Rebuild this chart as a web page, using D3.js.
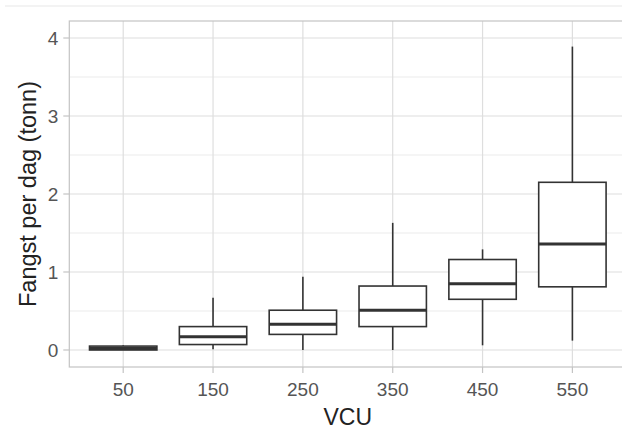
<!DOCTYPE html>
<html><head><meta charset="utf-8">
<script src="https://cdnjs.cloudflare.com/ajax/libs/d3/7.8.5/d3.min.js"></script>
<style>body{margin:0;background:#fff}svg{display:block}text{font-family:"Liberation Sans",Arial,sans-serif}</style>
</head><body>
<script>
const categories = ["50","150","250","350","450","550"];
const whiskerLow  = [0.00, 0.01, 0.00, 0.00, 0.06, 0.12];
const q1          = [0.00, 0.07, 0.20, 0.30, 0.65, 0.81];
const medians     = [0.02, 0.17, 0.33, 0.51, 0.85, 1.36];
const q3          = [0.05, 0.30, 0.51, 0.82, 1.16, 2.15];
const whiskerHigh = [0.06, 0.67, 0.94, 1.63, 1.29, 3.89];
const yTicks = [0, 1, 2, 3, 4];
const yMinor = [0.5, 1.5, 2.5, 3.5];

const W = 622, H = 430;
const L = 69.3, R = 626.3, T = 21, B = 367;
const svg = d3.select("body").append("svg").attr("width", W).attr("height", H);

// faint outer line
svg.append("line").attr("x1", 5).attr("x2", W).attr("y1", 6).attr("y2", 6)
  .attr("stroke", "#efefef").attr("stroke-width", 1.5);

// ggplot discrete expansion: 0.6 units each side
const x = d3.scalePoint().domain(categories)
  .range([L + 0.6 * (R - L) / (categories.length - 1 + 1.2), R - 0.6 * (R - L) / (categories.length - 1 + 1.2)]);
const step = x.step();
const xc = c => x(c);
const y = d3.scaleLinear().domain([-0.218, 4.218]).range([B, T]);

const g = svg.append("g");
// minor grid
g.selectAll(".minor").data(yMinor).join("line")
  .attr("x1", L).attr("x2", R).attr("y1", d => y(d)).attr("y2", d => y(d))
  .attr("stroke", "#ebebeb").attr("stroke-width", 1);
// major grid
g.selectAll(".majy").data(yTicks).join("line")
  .attr("x1", L).attr("x2", R).attr("y1", d => y(d)).attr("y2", d => y(d))
  .attr("stroke", "#dedede").attr("stroke-width", 1.2);
g.selectAll(".majx").data(categories).join("line")
  .attr("x1", d => xc(d)).attr("x2", d => xc(d)).attr("y1", T).attr("y2", B)
  .attr("stroke", "#dedede").attr("stroke-width", 1.2);

// boxes
const bw = 0.75 * step;
const col = "#333333";
categories.forEach((c, i) => {
  const cx = xc(c);
  g.append("line").attr("x1", cx).attr("x2", cx).attr("y1", y(q3[i])).attr("y2", y(whiskerHigh[i]))
    .attr("stroke", col).attr("stroke-width", 1.6);
  g.append("line").attr("x1", cx).attr("x2", cx).attr("y1", y(q1[i])).attr("y2", y(whiskerLow[i]))
    .attr("stroke", col).attr("stroke-width", 1.6);
  g.append("rect").attr("x", cx - bw / 2).attr("width", bw)
    .attr("y", y(q3[i])).attr("height", y(q1[i]) - y(q3[i]))
    .attr("fill", "#fff").attr("stroke", col).attr("stroke-width", 1.6);
  g.append("line").attr("x1", cx - bw / 2).attr("x2", cx + bw / 2)
    .attr("y1", y(medians[i])).attr("y2", y(medians[i]))
    .attr("stroke", col).attr("stroke-width", 3);
});

// panel border
svg.append("rect").attr("x", L).attr("y", T).attr("width", R - L).attr("height", B - T)
  .attr("fill", "none").attr("stroke", "#c4c4c4").attr("stroke-width", 1.2);

// y axis ticks + labels
yTicks.forEach(t => {
  svg.append("line").attr("x1", L - 6).attr("x2", L).attr("y1", y(t)).attr("y2", y(t))
    .attr("stroke", "#c4c4c4").attr("stroke-width", 1.2);
  svg.append("text").attr("x", L - 11).attr("y", y(t)).attr("dy", "0.36em")
    .attr("text-anchor", "end").attr("font-size", 19).attr("fill", "#555").text(t);
});
categories.forEach(c => {
  svg.append("line").attr("x1", xc(c)).attr("x2", xc(c)).attr("y1", B).attr("y2", B + 6)
    .attr("stroke", "#c4c4c4").attr("stroke-width", 1.2);
  svg.append("text").attr("x", xc(c)).attr("y", 396)
    .attr("text-anchor", "middle").attr("font-size", 19).attr("fill", "#555").text(c);
});

svg.append("text").attr("x", (L + R) / 2).attr("y", 425).attr("text-anchor", "middle")
  .attr("font-size", 23).attr("fill", "#222").text("VCU");
svg.append("text").attr("transform", `translate(36,${(T + B) / 2}) rotate(-90)`)
  .attr("text-anchor", "middle").attr("font-size", 23.5).attr("fill", "#222").text("Fangst per dag (tonn)");
</script>
</body></html>
